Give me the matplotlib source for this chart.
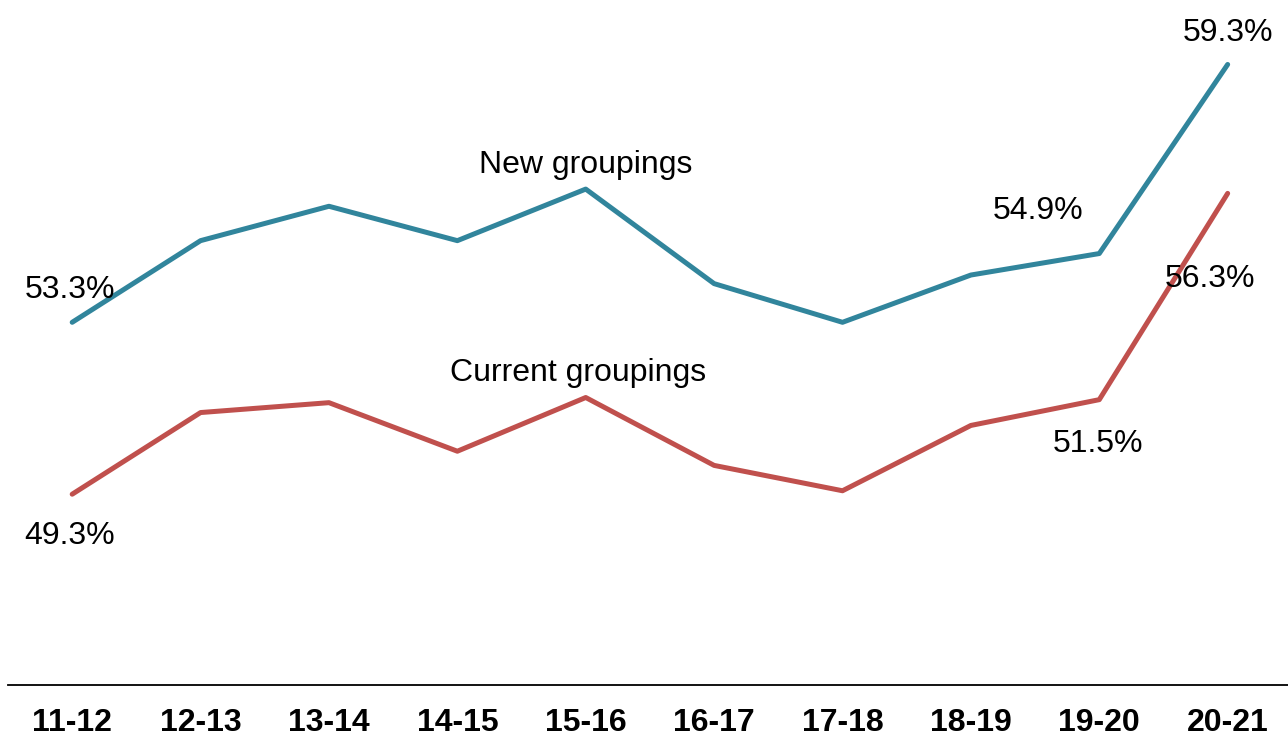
import matplotlib.pyplot as plt
import numpy as np

plt.rcParams['font.family'] = ['Liberation Sans', 'DejaVu Sans']

years = ['11-12', '12-13', '13-14', '14-15', '15-16', '16-17', '17-18', '18-19', '19-20', '20-21']
new_groupings = [53.3, 55.2, 56.0, 55.2, 56.4, 54.2, 53.3, 54.4, 54.9, 59.3]
current_groupings = [49.3, 51.2, 51.43, 50.3, 51.55, 49.97, 49.38, 50.9, 51.5, 56.3]

teal = '#31859c'
red = '#c0504d'

fig = plt.figure(figsize=(12.88, 7.37), dpi=100)
ax = fig.add_axes([8 / 1288, 1 - 685 / 737, 1 - 8 / 1288, 685 / 737])

x = np.arange(len(years))
ax.plot(x, new_groupings, color=teal, lw=3.6, solid_capstyle='round', solid_joinstyle='round')
ax.plot(x, current_groupings, color=red, lw=3.6, solid_capstyle='round', solid_joinstyle='round')

fs = 23
# value labels
ax.text(-0.02, new_groupings[0] + 0.76, '53.3%', ha='center', va='center', fontsize=fs)
ax.text(-0.02, current_groupings[0] - 0.98, '49.3%', ha='center', va='center', fontsize=fs)
ax.text(9.0, new_groupings[-1] + 0.74, '59.3%', ha='center', va='center', fontsize=fs)
ax.text(8.86, current_groupings[-1] - 2.0, '56.3%', ha='center', va='center', fontsize=fs)
ax.text(7.52, new_groupings[8] + 0.99, '54.9%', ha='center', va='center', fontsize=fs)
ax.text(7.99, current_groupings[8] - 1.03, '51.5%', ha='center', va='center', fontsize=fs)

# series names
ax.text(4.0, 56.97, 'New groupings', ha='center', va='center', fontsize=fs)
ax.text(3.94, 52.11, 'Current groupings', ha='center', va='center', fontsize=fs)

ax.set_xlim(-0.5, 9.47)
ax.set_ylim(44.86, 60.8)
ax.set_xticks(x)
ax.set_xticklabels(years, fontsize=fs, fontweight='bold')
ax.set_yticks([])
ax.tick_params(axis='x', length=0, pad=16.5)
for s in ['top', 'right', 'left']:
    ax.spines[s].set_visible(False)
ax.spines['bottom'].set_linewidth(1.3)
ax.spines['bottom'].set_color('black')

fig.savefig('out.png', dpi=100)
